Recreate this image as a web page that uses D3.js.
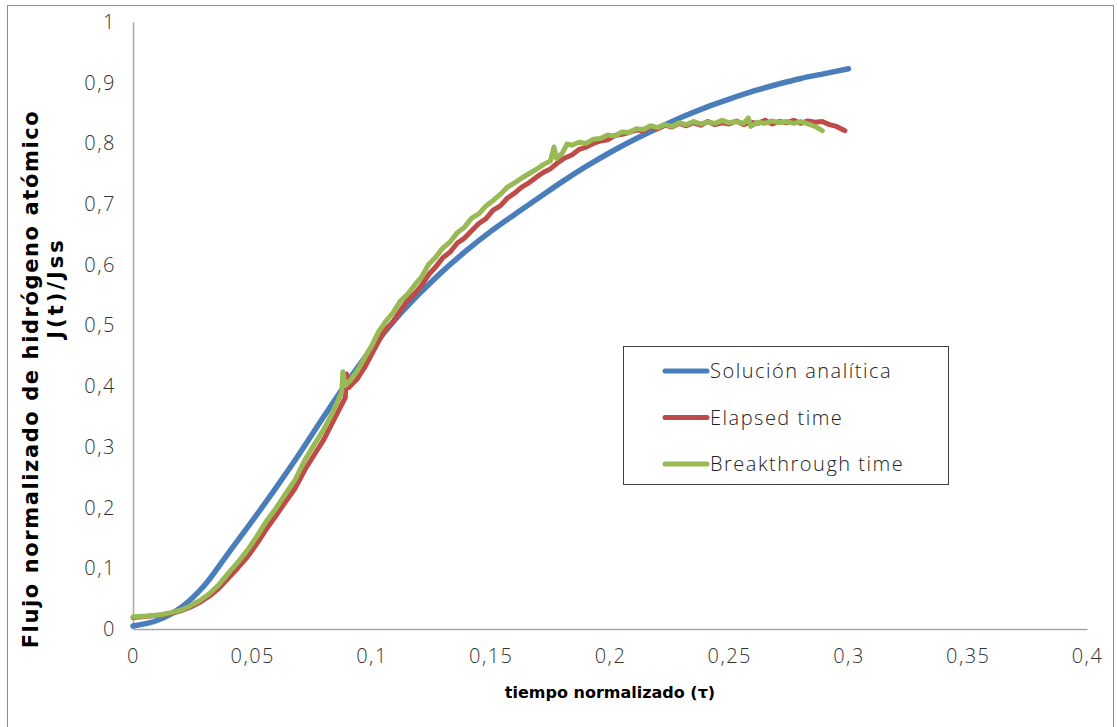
<!DOCTYPE html>
<html>
<head>
<meta charset="utf-8">
<style>
  body { margin: 0; background: #fff; }
  svg { display: block; }
  .tick-label { font-family: "Open Sans", sans-serif; font-weight: 300; font-size: 20px; letter-spacing: 1.5px; fill: #333; }
  .axis-title { font-family: "DejaVu Sans", sans-serif; font-weight: bold; fill: #000; }
  .legend-text { font-family: "Open Sans", sans-serif; font-weight: 300; font-size: 20px; letter-spacing: 1.5px; fill: #222; }
</style>
<script src="https://d3js.org/d3.v7.min.js"></script>
</head>
<body>
<svg id="chart"></svg>
<script>
  // ---- data ----
  let xTicks = [0, 0.05, 0.1, 0.15, 0.2, 0.25, 0.3, 0.35, 0.4];
  let yTicks = [0, 0.1, 0.2, 0.3, 0.4, 0.5, 0.6, 0.7, 0.8, 0.9, 1];
  let seriesNames = ["Solución analítica", "Elapsed time", "Breakthrough time"];

  // Solución analítica [tau, J/Jss]
  let analytic = [
    [0, 0.005], [0.01, 0.014], [0.02, 0.035], [0.03, 0.072], [0.04, 0.125],
    [0.05, 0.178], [0.06, 0.233], [0.07, 0.290], [0.08, 0.350], [0.09, 0.408],
    [0.10, 0.462], [0.11, 0.510], [0.12, 0.552], [0.13, 0.590], [0.14, 0.624],
    [0.15, 0.655], [0.16, 0.683], [0.17, 0.710], [0.18, 0.737], [0.19, 0.762],
    [0.20, 0.785], [0.21, 0.806], [0.22, 0.825], [0.23, 0.843], [0.24, 0.859],
    [0.25, 0.873], [0.26, 0.886], [0.27, 0.897], [0.28, 0.907], [0.29, 0.915],
    [0.30, 0.923]
  ];

  // Elapsed time [tau, J/Jss]
  let elapsed = [
    [0, 0.019], [0.004, 0.020], [0.008, 0.022], [0.012, 0.023], [0.016, 0.026],
    [0.020, 0.030], [0.024, 0.036], [0.028, 0.044], [0.032, 0.054], [0.036, 0.067],
    [0.040, 0.084], [0.044, 0.101], [0.048, 0.119], [0.052, 0.141], [0.056, 0.165],
    [0.060, 0.187], [0.064, 0.210], [0.068, 0.232], [0.072, 0.262], [0.076, 0.287],
    [0.080, 0.312], [0.084, 0.343], [0.087, 0.366], [0.089, 0.381], [0.0895, 0.420],
    [0.0905, 0.398], [0.092, 0.404], [0.094, 0.412], [0.097, 0.430], [0.100, 0.452],
    [0.103, 0.474], [0.106, 0.494], [0.109, 0.506], [0.112, 0.524], [0.115, 0.541],
    [0.118, 0.552], [0.121, 0.566], [0.124, 0.584], [0.127, 0.597], [0.130, 0.612],
    [0.133, 0.621], [0.136, 0.636], [0.139, 0.644], [0.142, 0.656], [0.145, 0.668],
    [0.148, 0.676], [0.151, 0.690], [0.154, 0.697], [0.157, 0.710], [0.160, 0.718],
    [0.163, 0.728], [0.166, 0.735], [0.169, 0.744], [0.172, 0.752], [0.175, 0.758],
    [0.178, 0.768], [0.181, 0.776], [0.184, 0.781], [0.187, 0.790], [0.190, 0.794],
    [0.193, 0.800], [0.196, 0.804], [0.199, 0.806], [0.202, 0.813], [0.205, 0.815],
    [0.208, 0.818], [0.211, 0.822], [0.214, 0.821], [0.217, 0.827], [0.220, 0.824],
    [0.223, 0.830], [0.226, 0.827], [0.229, 0.833], [0.232, 0.829], [0.235, 0.834],
    [0.238, 0.830], [0.241, 0.836], [0.244, 0.831], [0.247, 0.834], [0.250, 0.832],
    [0.253, 0.837], [0.256, 0.831], [0.259, 0.835], [0.262, 0.833], [0.265, 0.838],
    [0.268, 0.832], [0.271, 0.836], [0.274, 0.834], [0.277, 0.838], [0.280, 0.833],
    [0.283, 0.837], [0.286, 0.835], [0.289, 0.836], [0.292, 0.831], [0.295, 0.828],
    [0.2985, 0.821]
  ];

  // Breakthrough time [tau, J/Jss]
  let breakthrough = [
    [0, 0.020], [0.004, 0.021], [0.008, 0.022], [0.012, 0.024], [0.016, 0.027],
    [0.020, 0.031], [0.024, 0.038], [0.028, 0.047], [0.032, 0.058], [0.036, 0.073],
    [0.040, 0.092], [0.044, 0.110], [0.048, 0.130], [0.052, 0.153], [0.056, 0.178],
    [0.060, 0.199], [0.064, 0.223], [0.068, 0.246], [0.072, 0.278], [0.076, 0.304],
    [0.080, 0.329], [0.084, 0.359], [0.086, 0.377], [0.0875, 0.390], [0.0880, 0.424],
    [0.0890, 0.401], [0.091, 0.409], [0.094, 0.425], [0.097, 0.446], [0.100, 0.466],
    [0.103, 0.490], [0.106, 0.507], [0.109, 0.521], [0.112, 0.540], [0.115, 0.551],
    [0.118, 0.566], [0.121, 0.580], [0.124, 0.601], [0.127, 0.613], [0.130, 0.628],
    [0.133, 0.638], [0.136, 0.653], [0.139, 0.662], [0.142, 0.677], [0.145, 0.684],
    [0.148, 0.697], [0.151, 0.706], [0.154, 0.716], [0.157, 0.728], [0.160, 0.735],
    [0.163, 0.743], [0.166, 0.750], [0.169, 0.757], [0.172, 0.765], [0.175, 0.771],
    [0.1765, 0.794], [0.1775, 0.775], [0.180, 0.784], [0.182, 0.799], [0.184, 0.797],
    [0.187, 0.802], [0.190, 0.800], [0.193, 0.807], [0.196, 0.808], [0.199, 0.814],
    [0.202, 0.812], [0.205, 0.819], [0.208, 0.818], [0.211, 0.824], [0.214, 0.823],
    [0.217, 0.829], [0.220, 0.826], [0.223, 0.831], [0.226, 0.828], [0.229, 0.834],
    [0.232, 0.831], [0.235, 0.836], [0.238, 0.832], [0.241, 0.835], [0.244, 0.833],
    [0.247, 0.838], [0.250, 0.834], [0.253, 0.836], [0.256, 0.833], [0.258, 0.842],
    [0.259, 0.828], [0.262, 0.835], [0.265, 0.833], [0.268, 0.837], [0.271, 0.834],
    [0.274, 0.836], [0.277, 0.833], [0.280, 0.836], [0.283, 0.832], [0.286, 0.828],
    [0.289, 0.821]
  ];

  let colors = ["#4a7ebb", "#be4b48", "#98b954"];

  // ---- layout ----
  let width = 1117, height = 727;
  let margin = { top: 22, left: 133, right: 1117 - 1087, bottom: 727 - 629 };
  let bodyWidth = width - margin.left - margin.right;
  let bodyHeight = height - margin.top - margin.bottom;

  let svg = d3.select("#chart").attr("width", width).attr("height", height);

  // chart frame
  svg.append("rect")
    .attr("x", 7.5).attr("y", 5.5)
    .attr("width", 1106).attr("height", 725)
    .attr("fill", "none").attr("stroke", "#8c8c8c");

  let xScale = d3.scaleLinear().domain([0, 0.4]).range([0, bodyWidth]);
  let yScale = d3.scaleLinear().domain([0, 1]).range([bodyHeight, 0]);

  let body = svg.append("g").attr("transform", `translate(${margin.left},${margin.top})`);

  let fmt = d => String(d).replace(".", ",");

  // axes
  let axisX = d3.axisBottom(xScale).tickValues(xTicks).tickSize(0).tickPadding(20).tickFormat(fmt);
  let axisY = d3.axisLeft(yScale).tickValues(yTicks).tickSize(0).tickPadding(17).tickFormat(fmt);

  let gx = body.append("g").attr("transform", `translate(0,${bodyHeight})`).call(axisX);
  let gy = body.append("g").call(axisY);
  [gx, gy].forEach(g => {
    g.select(".domain").attr("stroke", "#a6a6a6").attr("stroke-width", 1.5);
    g.selectAll("text").attr("class", "tick-label").attr("fill", null);
  });

  // lines
  let smooth = d3.line().x(d => xScale(d[0])).y(d => yScale(d[1])).curve(d3.curveMonotoneX);
  let rough = d3.line().x(d => xScale(d[0])).y(d => yScale(d[1]));
  let allSeries = [analytic, elapsed, breakthrough];
  body.selectAll(".series")
    .data(allSeries)
    .enter().append("path")
    .attr("class", "series")
    .attr("d", (d, i) => i === 0 ? smooth(d) : rough(d))
    .attr("fill", "none")
    .attr("stroke", (d, i) => colors[i])
    .attr("stroke-width", (d, i) => i === 0 ? 5.5 : 5)
    .attr("stroke-linejoin", "round")
    .attr("stroke-linecap", "round");

  // axis titles
  svg.append("text")
    .attr("class", "axis-title")
    .attr("x", 610).attr("y", 698)
    .attr("text-anchor", "middle")
    .attr("font-size", 16)
    .text("tiempo normalizado  (τ)");

  svg.append("text")
    .attr("class", "axis-title")
    .attr("font-size", 21)
    .attr("letter-spacing", 1.6)
    .attr("text-anchor", "middle")
    .attr("transform", "translate(38,379) rotate(-90)")
    .text("Flujo normalizado de hidrógeno atómico");
  svg.append("text")
    .attr("class", "axis-title")
    .attr("font-size", 21)
    .attr("letter-spacing", 3)
    .attr("text-anchor", "middle")
    .attr("transform", "translate(63,288) rotate(-90)")
    .text("J(t)/Jss");

  // legend
  let legend = svg.append("g").attr("transform", "translate(623,346)");
  legend.append("rect")
    .attr("x", 0.5).attr("y", 0.5)
    .attr("width", 325).attr("height", 138)
    .attr("fill", "#fff").attr("stroke", "#404040");
  let items = legend.selectAll(".item")
    .data(seriesNames)
    .enter().append("g")
    .attr("transform", (d, i) => `translate(0,${25 + i * 46.5})`);
  items.append("line")
    .attr("x1", 42).attr("x2", 84)
    .attr("stroke", (d, i) => colors[i])
    .attr("stroke-width", 5)
    .attr("stroke-linecap", "round");
  items.append("text")
    .attr("class", "legend-text")
    .attr("x", 87).attr("y", 7)
    .text(d => d);
</script>
</body>
</html>
